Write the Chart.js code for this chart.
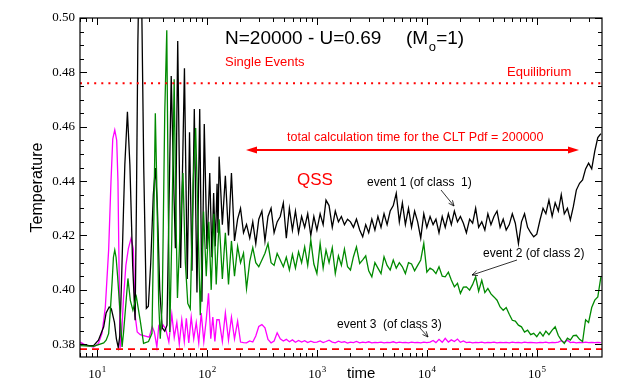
<!DOCTYPE html>
<html>
<head>
<meta charset="utf-8">
<script src="https://cdn.jsdelivr.net/npm/chart.js@4.4.1/dist/chart.umd.min.js"></script>
<style>
  html, body { margin: 0; padding: 0; background: #fff; }
  #wrap { width: 620px; height: 389px; }
</style>
</head>
<body>
<div id="wrap"><canvas id="tempChart" width="620" height="389"></canvas></div>
<script>
// ---- data ----
// early transient (each run has its own sample times)
const blackEarlyT = [7.05, 8.34, 9.3, 10.3, 11.5, 12.1, 12.9, 13.5, 14.4, 15.0, 15.6, 16.1, 16.7, 17.4, 17.9, 18.9, 19.9, 21.1, 22.2,
  22.8, 23.5, 24.5, 25.5, 26.6, 28.1, 29.3, 30.8, 32.5, 33.9, 35.3, 37.2, 39.2, 41.3, 43.3, 45.1, 47.3, 49.4, 51.6, 54.2,
  57.6, 62.4, 66.2, 69.4, 73.0, 76.7, 81.1, 85.9, 90.0, 94.5, 100, 106, 111, 115, 119, 123.6, 126];
const blackEarlyV = [0.3800, 0.3796, 0.3795, 0.3815, 0.3864, 0.3915, 0.3937, 0.3930, 0.3880, 0.3820, 0.3788, 0.3830, 0.4030, 0.4290, 0.4460, 0.4655, 0.4460, 0.4090, 0.3888,
  0.430, 0.490, 0.535, 0.505, 0.445, 0.3932, 0.3940, 0.410, 0.435, 0.4448, 0.432, 0.400, 0.3860, 0.3848, 0.3870, 0.430, 0.4787, 0.445, 0.4153, 0.4915,
  0.408, 0.4815, 0.404, 0.458, 0.407, 0.4665, 0.399, 0.4665, 0.3956, 0.461, 0.415, 0.443, 0.412, 0.4356, 0.416, 0.439, 0.421];

const greenEarlyT = [7.05, 9.3, 11.5, 12.1, 12.75, 13.2, 13.7, 14.1, 14.5, 14.9, 15.4, 16.3, 16.9, 17.4, 18.1, 19.1, 20.1, 21.2, 22.8,
  24.7, 26.5, 29.4, 31.6, 32.7, 33.9, 34.9, 36.4, 37.6, 39.2, 41.3, 43.1, 44.5, 45.9, 47.9, 50.3, 52.1, 53.9, 56.7, 60.5,
  63.6, 66.9, 70.5, 75.0, 78.9, 82.3, 86.9, 93.1, 98.5, 103.9, 109.3, 115.5, 121.4];
const greenEarlyV = [0.3795, 0.3792, 0.3805, 0.3815, 0.3839, 0.392, 0.4025, 0.412, 0.4146, 0.412, 0.4048, 0.390, 0.3790, 0.384, 0.3925, 0.4042, 0.396, 0.3925, 0.3974,
  0.3888, 0.3803, 0.381, 0.384, 0.420, 0.465, 0.440, 0.395, 0.382, 0.395, 0.465, 0.4955, 0.430, 0.3845, 0.420, 0.4775, 0.430, 0.397, 0.420, 0.443,
  0.410, 0.395, 0.393, 0.440, 0.4595, 0.430, 0.3907, 0.4288, 0.405, 0.425, 0.400, 0.428, 0.402];

const magentaEarlyT = [7.05, 7.83, 9.3, 10.3, 11.1, 11.9, 12.75, 13.4, 13.9, 14.5, 15.1, 15.5, 15.9, 16.2, 16.8, 17.4, 18.3, 19.3, 20.4,
  21.4, 22.2, 23.2, 24.7, 27.5, 29.8, 31.8, 33.2, 35.0, 36.4, 37.9, 40.0, 42.2, 45.0, 47.9, 50.4, 53.2, 56.0, 59.0, 62.2,
  64.9, 68.3, 71.9, 75.8, 79.9, 84.2, 88.7, 93.6, 98.5, 103.3, 108.3, 113.0, 118.0, 123.0];
const magentaEarlyV = [0.3808, 0.3797, 0.3790, 0.3803, 0.3840, 0.3937, 0.4146, 0.440, 0.4555, 0.4588, 0.455, 0.440, 0.405, 0.3785, 0.3850, 0.3968, 0.409, 0.4153, 0.4190,
  0.4150, 0.3907, 0.3845, 0.3835, 0.3830, 0.3826, 0.3864, 0.3845, 0.3790, 0.3865, 0.3850, 0.3870, 0.3855, 0.3808, 0.3910, 0.3825, 0.3880, 0.3800, 0.3890, 0.3810,
  0.3895, 0.3805, 0.3900, 0.3820, 0.3880, 0.3805, 0.3915, 0.3810, 0.3890, 0.3987, 0.3820, 0.3900, 0.3810, 0.3890];

// quasi-stationary part, common sample times
const lateT = [129, 138, 147, 157, 167, 178, 190, 202, 215, 229, 245, 261, 278, 296, 316, 337, 359, 383, 408, 435, 464, 495, 527, 562, 599, 638, 681, 726, 774, 825, 880, 938,
  1000, 1070, 1140, 1210, 1290, 1380, 1470, 1570, 1670, 1780, 1900, 2020, 2150, 2290, 2450, 2610, 2780, 2960, 3160, 3370, 3590, 3830, 4080, 4350, 4640, 4950, 5270, 5620, 5990, 6380, 6810, 7260, 7740, 8250, 8800, 9380,
  10000, 10700, 11400, 12100, 12900, 13800, 14700, 15700, 16700, 17800, 19000, 20200, 21500, 22900, 24500, 26100, 27800, 29600, 31600, 33700, 35900, 38300, 40800, 43500, 46400, 49500, 52700, 56200, 59900, 63800, 68100, 72600, 77400, 82500, 88000, 93800,
  100000, 107000, 114000, 121000, 129000, 138000, 147000, 157000, 167000, 178000, 190000, 202000, 215000, 229000, 245000, 261000, 278000, 296000, 316000, 337000, 359000, 383000];

const blackLateV = [0.449, 0.424, 0.442, 0.420, 0.443, 0.418, 0.426, 0.430, 0.421, 0.424, 0.419, 0.425, 0.417, 0.426, 0.429, 0.418, 0.427, 0.430, 0.421, 0.425,
  0.427, 0.432, 0.419, 0.430, 0.422, 0.429, 0.421, 0.427, 0.423, 0.428, 0.420, 0.427,
  0.422, 0.428, 0.424, 0.433, 0.431, 0.423, 0.429, 0.425, 0.427, 0.424, 0.426, 0.425, 0.423, 0.426, 0.422, 0.4195, 0.424, 0.421, 0.426, 0.422,
  0.427, 0.423, 0.428, 0.424, 0.429, 0.431, 0.4355, 0.425, 0.432, 0.424, 0.430, 0.423, 0.429, 0.425, 0.419, 0.428,
  0.423, 0.427, 0.424, 0.426, 0.421, 0.427, 0.423, 0.428, 0.424, 0.429, 0.425, 0.427, 0.4245, 0.421, 0.426, 0.4245, 0.430, 0.423, 0.425, 0.422,
  0.428, 0.424, 0.427, 0.429, 0.423, 0.426, 0.422, 0.424, 0.428, 0.4245, 0.417, 0.425, 0.428, 0.423, 0.421, 0.4195,
  0.4205, 0.4257, 0.430, 0.428, 0.433, 0.427, 0.432, 0.429, 0.435, 0.428, 0.430, 0.4257, 0.4306, 0.4367, 0.4392, 0.4404, 0.4445, 0.4466, 0.4445, 0.451,
  0.456, 0.4575];

const greenLateV = [0.426, 0.404, 0.421, 0.402, 0.418, 0.405, 0.416, 0.410, 0.4135, 0.4005, 0.4105, 0.4155, 0.410, 0.4085, 0.411, 0.4135, 0.417, 0.410, 0.409, 0.4134,
  0.411, 0.4085, 0.412, 0.4073, 0.413, 0.408, 0.414, 0.410, 0.4158, 0.409, 0.4183, 0.4095,
  0.406, 0.4171, 0.408, 0.4146, 0.410, 0.4155, 0.406, 0.4125, 0.409, 0.415, 0.4085, 0.4073, 0.4122, 0.4158, 0.4097, 0.411, 0.4125, 0.407, 0.4048, 0.410,
  0.408, 0.406, 0.4122, 0.409, 0.4073, 0.411, 0.408, 0.410, 0.4085, 0.406, 0.410, 0.4095, 0.407, 0.409, 0.411, 0.4171,
  0.4065, 0.408, 0.4073, 0.406, 0.4085, 0.405, 0.4048, 0.4065, 0.4036, 0.4011, 0.4024, 0.3987, 0.401, 0.4011, 0.3999, 0.402, 0.4048, 0.3995, 0.4035, 0.399,
  0.4005, 0.3985, 0.3974, 0.3962, 0.3937, 0.3925, 0.3935, 0.391, 0.3888, 0.3885, 0.387, 0.3864, 0.3845, 0.3852, 0.3835, 0.384,
  0.3828, 0.3845, 0.383, 0.3848, 0.3835, 0.3852, 0.3864, 0.3832, 0.3815, 0.3803, 0.3822, 0.3815, 0.3832, 0.3833, 0.3818, 0.381, 0.389, 0.388, 0.3935, 0.3962,
  0.3974, 0.4048];

const magentaLateV = [0.389, 0.381, 0.3915, 0.3815, 0.390, 0.382, 0.3885, 0.3808, 0.3806, 0.3805, 0.3812, 0.3808, 0.3830, 0.3865, 0.3872, 0.3860, 0.3818, 0.3805, 0.3812, 0.3842,
  0.3820, 0.3812, 0.3818, 0.3809, 0.3816, 0.3807, 0.3814, 0.3808, 0.3813, 0.3806, 0.3811, 0.3807,
  0.3808, 0.3812, 0.3806, 0.3810, 0.3815, 0.3808, 0.3805, 0.3811, 0.3807, 0.3809, 0.3804, 0.3808, 0.3806, 0.3810, 0.3805, 0.3808, 0.3806, 0.3809, 0.3805, 0.3807,
  0.3806, 0.3808, 0.3805, 0.3807, 0.3806, 0.3809, 0.3805, 0.3808, 0.3806, 0.3807, 0.3805, 0.3808, 0.3806, 0.3807, 0.3805, 0.3808,
  0.3806, 0.3808, 0.3814, 0.3806, 0.3818, 0.3807, 0.3822, 0.3808, 0.3816, 0.3810, 0.3819, 0.3807, 0.3812, 0.3806, 0.3808, 0.3805, 0.3807, 0.3806, 0.3808, 0.3805,
  0.3807, 0.3806, 0.3808, 0.3805, 0.3807, 0.3806, 0.3807, 0.3805, 0.3808, 0.3806, 0.3807, 0.3805, 0.3808, 0.3806, 0.3807, 0.3806,
  0.3805, 0.3807, 0.3806, 0.3808, 0.3805, 0.3807, 0.3806, 0.3808, 0.3813, 0.3807, 0.3815, 0.3806, 0.3808, 0.3805, 0.3807, 0.3806, 0.3808, 0.3806, 0.3807, 0.3806,
  0.3807, 0.3806];

const equilibriumT = 0.476;
const lowerLevelT = 0.3782;

const yTicks = [0.38, 0.40, 0.42, 0.44, 0.46, 0.48, 0.50];
const xTicks = [10, 100, 1000, 10000, 100000];
const xTickExp = ["1", "2", "3", "4", "5"];

const X_MIN = 7, X_MAX = 392000;
const Y_MIN = 0.3753, Y_MAX = 0.50;

function pts(ts, vs) {
  return ts.map((t, i) => ({ x: t, y: vs[i] }));
}
function hline(v) {
  return [{ x: X_MIN, y: v }, { x: X_MAX, y: v }];
}

const SANS = "'Liberation Sans', Arial, sans-serif";
const SERIF = "'Liberation Serif', 'Times New Roman', serif";

function seg(ctx, x1, y1, x2, y2) {
  ctx.beginPath(); ctx.moveTo(x1, y1); ctx.lineTo(x2, y2); ctx.stroke();
}
function txt(ctx, s, x, y, size, color, family) {
  ctx.font = `${size}px ${family || SANS}`;
  ctx.fillStyle = color;
  ctx.fillText(s, x, y);
  return ctx.measureText(s).width;
}
function openArrow(ctx, x1, y1, x2, y2) {
  seg(ctx, x1, y1, x2, y2);
  const a = Math.atan2(y2 - y1, x2 - x1), L = 6, w = 0.42;
  ctx.beginPath();
  ctx.moveTo(x2 - L * Math.cos(a - w), y2 - L * Math.sin(a - w));
  ctx.lineTo(x2, y2);
  ctx.lineTo(x2 - L * Math.cos(a + w), y2 - L * Math.sin(a + w));
  ctx.stroke();
}
function solidHead(ctx, x, y, dir) {
  ctx.beginPath();
  ctx.moveTo(x, y);
  ctx.lineTo(x - dir * 11, y - 3.5);
  ctx.lineTo(x - dir * 11, y + 3.5);
  ctx.closePath();
  ctx.fill();
}

const decorations = {
  id: "decorations",
  afterDraw(chart) {
    const { ctx, chartArea: a, scales: { x, y } } = chart;
    ctx.save();
    ctx.strokeStyle = "#000";
    ctx.lineWidth = 1.2;
    ctx.strokeRect(a.left, a.top, a.right - a.left, a.bottom - a.top);

    // inward tick marks, all four sides
    ctx.lineWidth = 1;
    for (let k = 0; k <= 24; k++) {
      const py = Math.round(y.getPixelForValue(0.38 + k * 0.005)) + 0.5;
      const len = k % 4 === 0 ? 7 : 4;
      seg(ctx, a.left, py, a.left + len, py);
      seg(ctx, a.right, py, a.right - len, py);
    }
    for (let d = 1; d <= 100000; d *= 10) {
      for (let m = 1; m <= 9; m++) {
        const v = m * d;
        if (v < X_MIN || v > X_MAX) continue;
        const px = Math.round(x.getPixelForValue(v)) + 0.5;
        const len = m === 1 ? 7 : 4;
        seg(ctx, px, a.bottom, px, a.bottom - len);
        seg(ctx, px, a.top, px, a.top + len);
      }
    }

    // x tick labels 10^n
    ctx.textBaseline = "alphabetic";
    xTicks.forEach((v, i) => {
      const px = x.getPixelForValue(v);
      ctx.font = `13px ${SERIF}`;
      const w1 = ctx.measureText("10").width;
      ctx.font = `9px ${SERIF}`;
      const w2 = ctx.measureText(xTickExp[i]).width;
      const x0 = px - (w1 + w2) / 2;
      txt(ctx, "10", x0, 377.5, 13, "#000", SERIF);
      txt(ctx, xTickExp[i], x0 + w1 + 0.5, 372, 9, "#000", SERIF);
    });
    txt(ctx, "time", 347, 378, 15, "#000");

    // header texts
    txt(ctx, "N=20000 - U=0.69", 225, 43.5, 19, "#000");
    let cx = 406;
    cx += txt(ctx, "(M", cx, 43.5, 19, "#000");
    cx += txt(ctx, "o", cx + 0.5, 51, 13, "#000") + 0.8;
    txt(ctx, "=1)", cx, 43.5, 19, "#000");
    txt(ctx, "Single Events", 225, 66, 13, "#ff0000");
    txt(ctx, "Equilibrium", 507, 76, 13, "#ff0000");

    // total calculation time arrow
    txt(ctx, "total calculation time for the CLT Pdf = 200000", 287, 141, 12.5, "#ff0000");
    ctx.strokeStyle = "#ff0000";
    ctx.fillStyle = "#ff0000";
    ctx.lineWidth = 2;
    seg(ctx, 252, 150, 573, 150);
    solidHead(ctx, 246, 150, -1);
    solidHead(ctx, 579, 150, 1);
    txt(ctx, "QSS", 297, 184.5, 17, "#ff0000");

    // event labels
    txt(ctx, "event 1 (of class  1)", 367, 186, 12, "#000");
    txt(ctx, "event 2 (of class 2)", 483, 257, 12, "#000");
    txt(ctx, "event 3  (of class 3)", 337, 327.5, 12, "#000");
    ctx.strokeStyle = "#000";
    ctx.lineWidth = 0.8;
    openArrow(ctx, 441, 190, 454, 206);
    openArrow(ctx, 517, 260, 472, 275);
    openArrow(ctx, 420, 328, 428, 337);
    ctx.restore();
  }
};

const lineStyle = { fill: false, pointRadius: 0, tension: 0, clip: 0 };

new Chart(document.getElementById("tempChart"), {
  type: "line",
  data: {
    datasets: [
      { ...lineStyle, label: "lower", data: hline(lowerLevelT), borderColor: "#ff0000", borderWidth: 1.8, borderDash: [7, 5] },
      { ...lineStyle, label: "Equilibrium", data: hline(equilibriumT), borderColor: "#ff0000", borderWidth: 2, borderDash: [2, 5.1] },
      { ...lineStyle, label: "event 2", data: pts(greenEarlyT, greenEarlyV).concat(pts(lateT, greenLateV)), borderColor: "#008a00", borderWidth: 1.3 },
      { ...lineStyle, label: "event 1", data: pts(blackEarlyT, blackEarlyV).concat(pts(lateT, blackLateV)), borderColor: "#000000", borderWidth: 1.3 },
      { ...lineStyle, label: "event 3", data: pts(magentaEarlyT, magentaEarlyV).concat(pts(lateT, magentaLateV)), borderColor: "#ff00ff", borderWidth: 1.3 }
    ]
  },
  options: {
    responsive: false,
    devicePixelRatio: 1,
    animation: false,
    layout: { padding: { top: 18, right: 18, left: 0, bottom: 0 } },
    plugins: { legend: { display: false }, tooltip: { enabled: false } },
    scales: {
      x: {
        type: "logarithmic",
        min: X_MIN,
        max: X_MAX,
        grid: { display: false, drawTicks: false },
        border: { display: false },
        ticks: { display: false },
        afterFit: (s) => { s.height = 32; }
      },
      y: {
        type: "linear",
        min: Y_MIN,
        max: Y_MAX,
        grid: { display: false, drawTicks: false },
        border: { display: false },
        afterBuildTicks: (s) => { s.ticks = yTicks.map(v => ({ value: v })); },
        ticks: {
          color: "#000",
          padding: 5,
          font: { family: "'Liberation Serif'", size: 13 },
          callback: v => Number(v).toFixed(2)
        },
        title: {
          display: true,
          text: "Temperature",
          color: "#000",
          font: { family: "'Liberation Sans'", size: 16 },
          padding: { top: 28, bottom: 0 }
        },
        afterFit: (s) => { s.width = 80; }
      }
    }
  },
  plugins: [decorations]
});
</script>
</body>
</html>
